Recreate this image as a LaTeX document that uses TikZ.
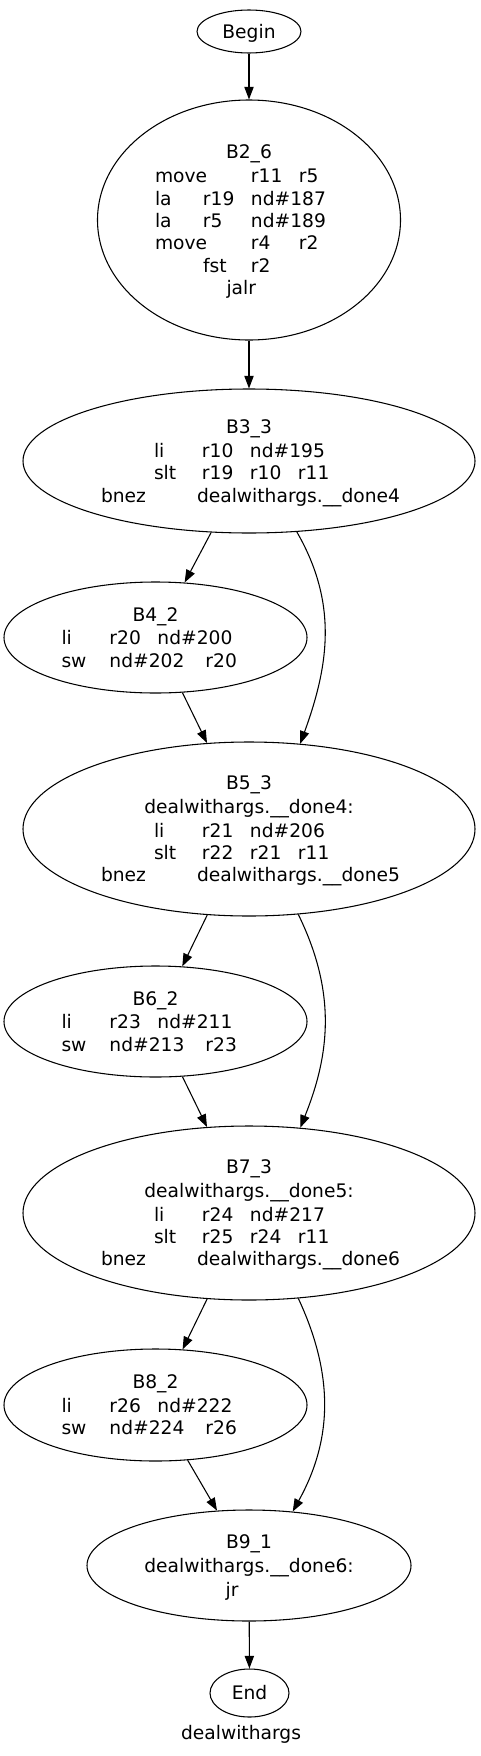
\documentclass[tikz,border=0pt]{standalone}
\usepackage{fontspec}
\setmainfont{DejaVu Sans}
\usetikzlibrary{shapes.geometric,arrows.meta}
\newdimen\px \px=0.75pt
\newcommand\mystrut{\rule[-3.3pt]{0pt}{16.8pt}}
%%% one line of a block: starts #1 px from the centre
\newcommand\lineat[2]{\hbox to 0pt{\mystrut\hskip #1\px\relax #2\hss}}
\newcommand\linec[1]{\hbox to 0pt{\mystrut\hss #1\hss}}
%%% a word #1 px into its line (tab columns of 48 px)
\newcommand\tabat[2]{\rlap{\hskip #1\px\relax #2}}
\tikzset{
  blk/.style 2 args={ellipse, draw, line width=0.8pt, inner sep=0pt,
    minimum width=#1*0.75pt, minimum height=#2*0.75pt,
    font=\fontsize{14pt}{16.8pt}\selectfont},
  edge/.style={line width=0.8pt, -{Triangle[length=9.5pt,width=7pt]}}
}
\begin{document}
\begin{tikzpicture}[x=0.75pt,y=-0.75pt]
\useasboundingbox (0,0) rectangle (480,1756);
%%% the blocks of the flow graph
\node[blk={104}{43}] (begin) at (249,31.5) {\vbox{\linec{Begin}}};
\node[blk={303}{240}] (b2) at (249,220) {\vbox{\linec{B2\_6}
  \lineat{-94}{\tabat{0}{move}\tabat{96}{r11}\tabat{144}{r5}}
  \lineat{-94}{\tabat{0}{la}\tabat{48}{r19}\tabat{96}{nd\#187}}
  \lineat{-94}{\tabat{0}{la}\tabat{48}{r5}\tabat{96}{nd\#189}}
  \lineat{-94}{\tabat{0}{move}\tabat{96}{r4}\tabat{144}{r2}}
  \lineat{-94}{\tabat{48}{fst}\tabat{96}{r2}}
  \lineat{-22.5}{jalr}}};
\node[blk={452}{144}] (b3) at (249,461) {\vbox{\linec{B3\_3}
  \lineat{-95}{\tabat{0}{li}\tabat{48}{r10}\tabat{96}{nd\#195}}
  \lineat{-95}{\tabat{0}{slt}\tabat{48}{r19}\tabat{96}{r10}\tabat{144}{r11}}
  \lineat{-148}{\tabat{0}{bnez}\tabat{96}{dealwithargs.\_\_done4}}}};
\node[blk={303}{111}] (b4) at (155.5,637.5) {\vbox{\linec{B4\_2}
  \lineat{-94}{\tabat{0}{li}\tabat{48}{r20}\tabat{96}{nd\#200}}
  \lineat{-94}{\tabat{0}{sw}\tabat{48}{nd\#202}\tabat{144}{r20}}}};
\node[blk={452}{174}] (b5) at (249,829) {\vbox{\linec{B5\_3}
  \linec{dealwithargs.\_\_done4:}
  \lineat{-95}{\tabat{0}{li}\tabat{48}{r21}\tabat{96}{nd\#206}}
  \lineat{-95}{\tabat{0}{slt}\tabat{48}{r22}\tabat{96}{r21}\tabat{144}{r11}}
  \lineat{-148}{\tabat{0}{bnez}\tabat{96}{dealwithargs.\_\_done5}}}};
\node[blk={303}{111}] (b6) at (155.5,1021.5) {\vbox{\linec{B6\_2}
  \lineat{-94}{\tabat{0}{li}\tabat{48}{r23}\tabat{96}{nd\#211}}
  \lineat{-94}{\tabat{0}{sw}\tabat{48}{nd\#213}\tabat{144}{r23}}}};
\node[blk={452}{174}] (b7) at (249,1213) {\vbox{\linec{B7\_3}
  \linec{dealwithargs.\_\_done5:}
  \lineat{-95}{\tabat{0}{li}\tabat{48}{r24}\tabat{96}{nd\#217}}
  \lineat{-95}{\tabat{0}{slt}\tabat{48}{r25}\tabat{96}{r24}\tabat{144}{r11}}
  \lineat{-148}{\tabat{0}{bnez}\tabat{96}{dealwithargs.\_\_done6}}}};
\node[blk={303}{112}] (b8) at (155.5,1405) {\vbox{\linec{B8\_2}
  \lineat{-94}{\tabat{0}{li}\tabat{48}{r26}\tabat{96}{nd\#222}}
  \lineat{-94}{\tabat{0}{sw}\tabat{48}{nd\#224}\tabat{144}{r26}}}};
\node[blk={324}{111}] (b9) at (249,1565.5) {\vbox{\linec{B9\_1}
  \linec{dealwithargs.\_\_done6:}
  \lineat{-23.3}{jr}}};
\node[blk={79}{48}] (end) at (249.5,1693) {\vbox{\linec{End}}};
\node[font=\fontsize{14pt}{16.8pt}\selectfont] (title) at (241,1734) {dealwithargs};
%%% the edges
\draw[edge] (begin) -- (b2);
\draw[edge] (b2) -- (b3);
\draw[edge] (b3) -- (b4);
\draw[edge] (b3.-56) to[out=-60,in=70] (b5.59);
\draw[edge] (b4) -- (b5);
\draw[edge] (b5) -- (b6);
\draw[edge] (b5.-60) to[out=-64,in=68] (b7.59);
\draw[edge] (b6) -- (b7);
\draw[edge] (b7) -- (b8);
\draw[edge] (b7.-60) to[out=-65,in=61] (b9.51);
\draw[edge] (b8) -- (b9);
\draw[edge] (b9) -- (end);
\end{tikzpicture}
\end{document}
